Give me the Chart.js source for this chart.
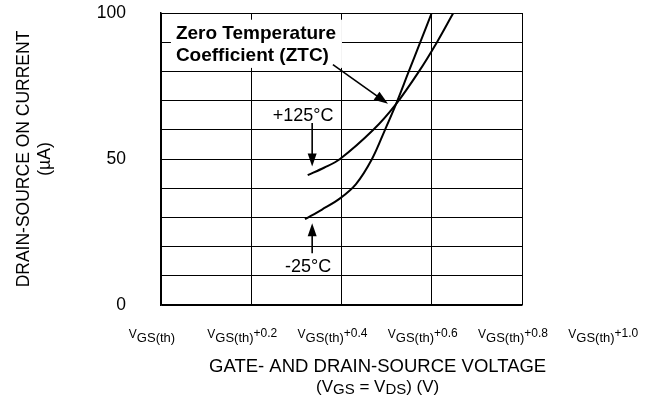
<!DOCTYPE html>
<html><head><meta charset="utf-8">
<script src="https://cdn.jsdelivr.net/npm/chart.js@4.4.1/dist/chart.umd.min.js"></script>
<style>html,body{margin:0;padding:0;background:#fff;} #wrap{width:656px;height:403px;position:relative;}</style>
</head><body><div id="wrap"><canvas id="c" width="656" height="403"></canvas></div>
<script>
// ---- data ----
const xTickValues = [0, 0.2, 0.4, 0.6, 0.8, 1.0];
const xTickSuffixes = ['', '+0.2', '+0.4', '+0.6', '+0.8', '+1.0'];
const yTickLabels = [0, 50, 100];
const hotVoltage = [0.3251, 0.3612, 0.3967, 0.4705, 0.5208, 0.5717, 0.6116, 0.6477];
const hotCurrent = [44.5, 47.0, 50, 60, 68.8, 80, 90, 100];
const coldVoltage = [0.3191, 0.3568, 0.3967, 0.4321, 0.4676, 0.4964, 0.5208, 0.5491, 0.5746, 0.5999];
const coldCurrent = [29.4, 32.7, 36.5, 41.4, 50, 60, 68.8, 80, 90, 100];
const seriesNames = ['+125°C', '-25°C'];
const ztcLabel = ['Zero Temperature', 'Coefficient (ZTC)'];
const xTitle = 'GATE- AND DRAIN-SOURCE VOLTAGE';
const yTitle = ['DRAIN-SOURCE ON CURRENT', '(µA)'];

const FF = '"Liberation Sans", Arial, sans-serif';
const toPts = (xs, ys) => xs.map((v, i) => ({x: v, y: ys[i]}));
const AREA = {left: 161, top: 13, right: 522, bottom: 305};

function arrow(ctx, x1, y1, x2, y2, head, w) {
  const a = Math.atan2(y2 - y1, x2 - x1);
  const c = Math.cos(a), s = Math.sin(a);
  ctx.beginPath(); ctx.moveTo(x1, y1); ctx.lineTo(x2 - c * head * 0.7, y2 - s * head * 0.7); ctx.stroke();
  ctx.beginPath(); ctx.moveTo(x2, y2);
  ctx.lineTo(x2 - head * c + w * s, y2 - head * s - w * c);
  ctx.lineTo(x2 - head * c - w * s, y2 - head * s + w * c);
  ctx.closePath(); ctx.fill();
}

const overlay = {
  id: 'overlay',
  beforeDatasetsDraw(chart) {
    const {ctx, scales: {x, y}} = chart;
    ctx.save(); ctx.fillStyle = '#fff';
    const x0 = x.getPixelForValue(0.022), x1 = x.getPixelForValue(0.401);
    const y0 = y.getPixelForValue(97.7), y1 = y.getPixelForValue(81.2);
    ctx.fillRect(x0, y0, x1 - x0, y1 - y0);
    ctx.restore();
  },
  afterDatasetsDraw(chart) {
    const {ctx, scales: {x, y}} = chart;
    ctx.save();
    ctx.fillStyle = '#000'; ctx.strokeStyle = '#000'; ctx.lineWidth = 1.6;
    ctx.textBaseline = 'alphabetic';
    ctx.font = 'bold 19px ' + FF; ctx.textAlign = 'left';
    ctx.fillText(ztcLabel[0], x.getPixelForValue(0.033), y.getPixelForValue(91.1));
    ctx.fillText(ztcLabel[1], x.getPixelForValue(0.033), y.getPixelForValue(83.4));
    arrow(ctx, x.getPixelForValue(0.381), y.getPixelForValue(82.3), x.getPixelForValue(0.503), y.getPixelForValue(68.9), 14, 5);
    ctx.font = '18px ' + FF; ctx.textAlign = 'center';
    ctx.fillText(seriesNames[0], x.getPixelForValue(0.315), y.getPixelForValue(62.9));
    ctx.fillText(seriesNames[1], x.getPixelForValue(0.326), y.getPixelForValue(11.4));
    arrow(ctx, x.getPixelForValue(0.335), y.getPixelForValue(62.3), x.getPixelForValue(0.335), y.getPixelForValue(47.4), 13, 4.5);
    arrow(ctx, x.getPixelForValue(0.335), y.getPixelForValue(17.7), x.getPixelForValue(0.335), y.getPixelForValue(28.0), 13, 4.5);
    ctx.restore();
  },
  afterDraw(chart) {
    const {ctx, scales: {x}, chartArea} = chart;
    const base = chartArea.bottom;
    ctx.save();
    ctx.fillStyle = '#000'; ctx.textBaseline = 'alphabetic'; ctx.textAlign = 'left';
    xTickValues.forEach((v, i) => {
      const cx = x.getPixelForValue(v) - 9;
      ctx.font = '12px ' + FF; const wV = ctx.measureText('V').width;
      ctx.font = '13px ' + FF; const wS = ctx.measureText('GS(th)').width;
      ctx.font = '12px ' + FF; const wP = ctx.measureText(xTickSuffixes[i]).width;
      const sx = cx - (wV + wS + wP) / 2;
      ctx.font = '12px ' + FF; ctx.fillText('V', sx, base + 33);
      ctx.font = '13px ' + FF; ctx.fillText('GS(th)', sx + wV, base + 37);
      ctx.font = '12px ' + FF; ctx.fillText(xTickSuffixes[i], sx + wV + wS, base + 32);
    });
    const tc = (x.getPixelForValue(xTickValues[0]) + x.getPixelForValue(xTickValues[xTickValues.length - 1])) / 2 - 9;
    ctx.font = '18.5px ' + FF; ctx.textAlign = 'center';
    ctx.fillText(xTitle, tc, base + 67);
    const parts = [['(V', 17, 0], ['GS', 15, 2.5], [' = V', 17, 0], ['DS', 15, 2.5], [') (V)', 17, 0]];
    let tw = 0;
    parts.forEach(p => { ctx.font = p[1] + 'px ' + FF; p.push(ctx.measureText(p[0]).width); tw += p[3]; });
    let px = tc - tw / 2; ctx.textAlign = 'left';
    parts.forEach(p => { ctx.font = p[1] + 'px ' + FF; ctx.fillText(p[0], px, base + 86.5 + p[2]); px += p[3]; });
    ctx.restore();
  }
};

const chart = new Chart(document.getElementById('c'), {
  type: 'scatter',
  data: {
    datasets: [
      {label: seriesNames[0], data: toPts(hotVoltage, hotCurrent)},
      {label: seriesNames[1], data: toPts(coldVoltage, coldCurrent)}
    ].map(d => Object.assign(d, {showLine: true, borderColor: '#000', borderWidth: 2, pointRadius: 0, tension: 0.35, fill: false}))
  },
  options: {
    responsive: false, animation: false, devicePixelRatio: 1,
    layout: {padding: {left: 0, top: AREA.top, right: 656 - AREA.right, bottom: 403 - AREA.bottom}},
    plugins: {legend: {display: false}, tooltip: {enabled: false}},
    scales: {
      x: {
        type: 'linear', min: 0, max: 0.8,
        ticks: {display: false, stepSize: 0.2},
        grid: {color: '#000', lineWidth: 1, drawTicks: false},
        border: {color: '#000', width: 1.5},
        afterFit: s => { s.height = 0; s.paddingLeft = 0; s.paddingRight = 0; }
      },
      y: {
        min: 0, max: 100,
        ticks: {stepSize: 10, padding: 35, color: '#000', font: {family: FF, size: 17.5},
          callback: v => yTickLabels.includes(v) ? String(v) : ''},
        grid: {color: '#000', lineWidth: 1, drawTicks: false},
        border: {color: '#000', width: 1.5},
        title: {display: true, text: yTitle, color: '#000', font: {family: FF, size: 17.5, lineHeight: 1.2}, padding: {top: 13.5, bottom: 0}},
        afterFit: s => { s.width = AREA.left; s.paddingTop = 0; s.paddingBottom = 0; }
      }
    }
  },
  plugins: [overlay]
});
// correct any layout drift so the plot frame lands where the reference has it
const ca = chart.chartArea;
const pad = chart.options.layout.padding;
pad.top += AREA.top - ca.top;
pad.bottom += ca.bottom - AREA.bottom;
pad.right += ca.right - AREA.right;
chart.update();
</script>
</body></html>
